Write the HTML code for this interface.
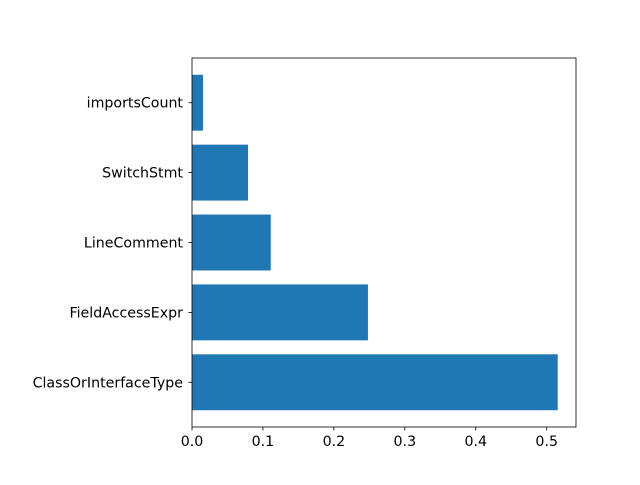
<!DOCTYPE html>
<html><head><meta charset="utf-8"><style>
body{margin:0;background:#fff;}
svg text{font-family:"DejaVu Sans","Liberation Sans",sans-serif;font-size:14.2px;fill:#000;}
</style></head><body>
<svg id="chart" width="640" height="480" xmlns="http://www.w3.org/2000/svg">
<rect width="640" height="480" fill="#fff"/>
<g id="bars"></g>
<g id="axes"></g>
</svg>
<script>
const categories = ["ClassOrInterfaceType","FieldAccessExpr","LineComment","SwitchStmt","importsCount"];
const values = [0.5155, 0.248, 0.111, 0.079, 0.0155];
const xTicks = [0, 0.1, 0.2, 0.3, 0.4, 0.5];
const xTickLabels = ["0.0","0.1","0.2","0.3","0.4","0.5"];

const L=192,R=576,T=58,B=427;
const xmax=Math.max(...values)*1.05;
const ymin=-0.64, ymax=categories.length-1+0.64;
const xs=v=>L+v/xmax*(R-L);
const ys=v=>B-(v-ymin)/(ymax-ymin)*(B-T);
const NS="http://www.w3.org/2000/svg";
const bars=document.getElementById('bars'), axes=document.getElementById('axes');
function mk(tag,attrs,parent){const e=document.createElementNS(NS,tag);for(const k in attrs)e.setAttribute(k,attrs[k]);parent.appendChild(e);return e;}
categories.forEach((c,i)=>{
  const y0=ys(i+0.4), y1=ys(i-0.4);
  const r=mk('rect',{x:xs(0),y:y0,width:xs(values[i])-xs(0),height:y1-y0,fill:'#1f77b4'},bars);
  
  
  const yc=ys(i);
  const tk=mk('line',{x1:L,x2:L-3.5,y1:yc,y2:yc,stroke:'#000','stroke-width':0.8},axes);
  
  
  const t=mk('text',{x:L-9,y:yc+5,'text-anchor':'end'},axes);
  t.textContent=c;
  
  
});
xTicks.forEach((v,i)=>{
  const x=xs(v);
  const tk=mk('line',{x1:x,x2:x,y1:B,y2:B+3.5,stroke:'#000','stroke-width':0.8},axes);
  
  
  const t=mk('text',{x:x,y:B+19,'text-anchor':'middle'},axes);
  t.textContent=xTickLabels[i];
  
  
});
const f=mk('rect',{x:L,y:T,width:R-L,height:B-T,fill:'none',stroke:'#000','stroke-width':0.8},axes);


</script>
</body></html>
